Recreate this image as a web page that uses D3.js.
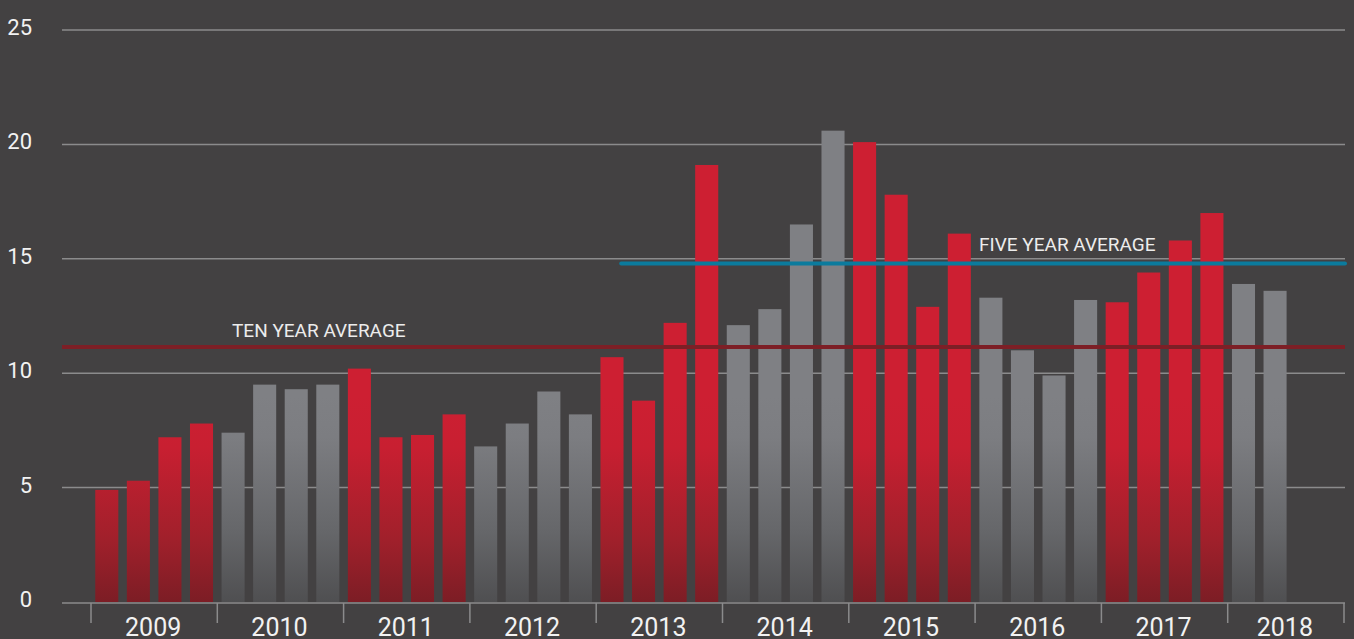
<!DOCTYPE html>
<html>
<head>
<meta charset="utf-8">
<script src="https://cdn.jsdelivr.net/npm/d3@7"></script>
<style>
	html, body { margin: 0; padding: 0; background: #434142; }
	svg { display: block; font-family: Roboto, "DejaVu Sans", sans-serif; }
</style>
</head>
<body>
<div id="chart-area"></div>
<script>
// data
const years = [2009, 2010, 2011, 2012, 2013, 2014, 2015, 2016, 2017, 2018];
const quarters = ["Q1", "Q2", "Q3", "Q4"];
const values = [
	4.9, 5.3, 7.2, 7.8,
	7.4, 9.5, 9.3, 9.5,
	10.2, 7.2, 7.3, 8.2,
	6.8, 7.8, 9.2, 8.2,
	10.7, 8.8, 12.2, 19.1,
	12.1, 12.8, 16.5, 20.6,
	20.1, 17.8, 12.9, 16.1,
	13.3, 11.0, 9.9, 13.2,
	13.1, 14.4, 15.8, 17.0,
	13.9, 13.6
];
const yTicks = [0, 5, 10, 15, 20, 25];
const tenYearAvg = 11.15;
const fiveYearAvg = 14.8;
const fiveYearStart = 2013;

// set up width and height
const canvasWidth = 1354;
const canvasHeight = 639;

// plot area
const plot = { left: 62, right: 1345, top: 30, bottom: 602, barsLeft: 91 };

const svg = d3.select("#chart-area")
	.append("svg")
		.attr("width", canvasWidth)
		.attr("height", canvasHeight);

// quarter keys
const allQuarters = years.flatMap((y) => quarters.map((q) => `${y} ${q}`));
const data = values.map((v, i) => ({ key: allQuarters[i], year: years[Math.floor(i / 4)], value: v }));

// scales
const xScale = d3.scaleBand()
	.domain(allQuarters)
	.range([plot.barsLeft, canvasWidth])
	.paddingInner(0.27)
	.paddingOuter(0.135);

const yearScale = d3.scaleBand()
	.domain(years)
	.range([plot.barsLeft, canvasWidth]);

const yScale = d3.scaleLinear()
	.domain([0, 25])
	.range([plot.bottom, plot.top]);

// gradients for bars (darker toward the bottom)
const defs = svg.append("defs");
const gradients = [
	{ id: "redGrad", stops: [["#7c1d25", 0], ["#a0202b", 0.3], ["#c81f31", 0.75], ["#cd1f32", 1]] },
	{ id: "grayGrad", stops: [["#4f4f51", 0], ["#66676a", 0.35], ["#7c7d81", 0.8], ["#7f8084", 1]] }
];
gradients.forEach((g) => {
	const grad = defs.append("linearGradient")
		.attr("id", g.id)
		.attr("gradientUnits", "userSpaceOnUse")
		.attr("x1", 0).attr("x2", 0)
		.attr("y1", yScale(0)).attr("y2", yScale(9));
	grad.selectAll("stop").data(g.stops).enter()
		.append("stop")
		.attr("offset", (d) => d[1])
		.attr("stop-color", (d) => d[0]);
});

// gridlines
svg.append("g")
	.selectAll("line")
	.data(yTicks.filter((d) => d > 0))
	.enter()
	.append("line")
		.attr("x1", plot.left)
		.attr("x2", plot.right)
		.attr("y1", (d) => yScale(d))
		.attr("y2", (d) => yScale(d))
		.attr("stroke", "#8b8b8c")
		.attr("stroke-width", 1.5);

// y labels
svg.append("g")
	.selectAll("text")
	.data(yTicks)
	.enter()
	.append("text")
		.attr("x", 32)
		.attr("y", (d) => yScale(d) + 5)
		.attr("text-anchor", "end")
		.attr("font-size", "22px")
		.attr("fill", "#f2f2f2")
		.text((d) => d);

// bars
svg.append("g")
	.selectAll("rect")
	.data(data)
	.enter()
	.append("rect")
		.attr("x", (d) => xScale(d.key))
		.attr("width", xScale.bandwidth())
		.attr("y", (d) => yScale(d.value))
		.attr("height", (d) => yScale(0) - yScale(d.value))
		.attr("fill", (d) => years.indexOf(d.year) % 2 === 0 ? "url(#redGrad)" : "url(#grayGrad)");

// x axis baseline and year ticks
const axis = svg.append("g");
axis.append("line")
	.attr("x1", plot.left)
	.attr("x2", plot.right)
	.attr("y1", plot.bottom + 1)
	.attr("y2", plot.bottom + 1)
	.attr("stroke", "#8b8b8c")
	.attr("stroke-width", 1.5);

const tickXs = years.map((y) => yearScale(y)).concat([plot.right - 1]);
axis.selectAll(".tick")
	.data(tickXs)
	.enter()
	.append("line")
		.attr("class", "tick")
		.attr("x1", (d) => d)
		.attr("x2", (d) => d)
		.attr("y1", plot.bottom + 1)
		.attr("y2", plot.bottom + 21)
		.attr("stroke", "#8b8b8c")
		.attr("stroke-width", 1.5);

axis.selectAll(".year")
	.data(years)
	.enter()
	.append("text")
		.attr("class", "year")
		.attr("x", (d, i) => (tickXs[i] + tickXs[i + 1]) / 2 - 1)
		.attr("y", 636)
		.attr("text-anchor", "middle")
		.attr("font-size", "25px")
		.attr("fill", "#f2f2f2")
		.text((d) => d);

// ten year average
svg.append("line")
	.attr("x1", plot.left)
	.attr("x2", plot.right)
	.attr("y1", yScale(tenYearAvg))
	.attr("y2", yScale(tenYearAvg))
	.attr("stroke", "#7d1f26")
	.attr("stroke-width", 4);

svg.append("text")
	.attr("x", 232)
	.attr("y", yScale(tenYearAvg) - 10)
	.attr("font-size", "19px")
	.attr("fill", "#ececec")
	.text("TEN YEAR AVERAGE");

// five year average
svg.append("line")
	.attr("x1", yearScale(fiveYearStart) + 25)
	.attr("x2", plot.right)
	.attr("y1", yScale(fiveYearAvg))
	.attr("y2", yScale(fiveYearAvg))
	.attr("stroke", "#0b7b9d")
	.attr("stroke-width", 4)
	.attr("stroke-linecap", "round");

svg.append("text")
	.attr("x", 979)
	.attr("y", yScale(fiveYearAvg) - 12)
	.attr("font-size", "19px")
	.attr("fill", "#ececec")
	.text("FIVE YEAR AVERAGE");
</script>
</body>
</html>
